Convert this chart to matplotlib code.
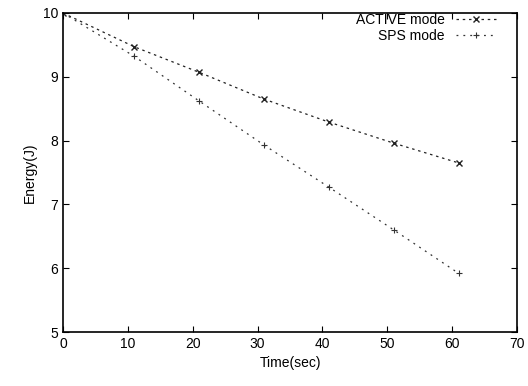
import matplotlib
matplotlib.use('Agg')
import matplotlib.pyplot as plt

plt.rcParams['font.family'] = ['Liberation Sans', 'DejaVu Sans']

timeSec = [0, 11, 21, 31, 41, 51, 61]
activeEnergy = [10.0, 9.47, 9.07, 8.65, 8.29, 7.96, 7.65]
spsEnergy = [10.0, 9.32, 8.62, 7.93, 7.27, 6.60, 5.92]

fig = plt.figure(figsize=(5.28, 3.86), dpi=100)
ax = fig.add_axes([63 / 528, 54 / 386, 454 / 528, 319 / 386])

ax.plot(timeSec, activeEnergy, color='#222222', linestyle=(0, (2, 3)), linewidth=0.9,
        marker='x', markersize=5, markeredgewidth=1.0, label='ACTIVE mode')
ax.plot(timeSec, spsEnergy, color='#333333', linestyle=(0, (1.5, 4)), linewidth=0.9,
        marker='+', markersize=4, markeredgewidth=0.8, label='SPS mode')

ax.set_xlim(0, 70)
ax.set_ylim(5, 10)
ax.set_xticks(range(0, 71, 10))
ax.set_yticks(range(5, 11))
ax.tick_params(direction='in', top=True, right=True, length=4, labelsize=10)
for spine in ax.spines.values():
    spine.set_linewidth(1.2)

ax.set_xlabel('Time(sec)', fontsize=10)
ax.set_ylabel('Energy(J)', fontsize=10)

leg = ax.legend(loc='upper right', bbox_to_anchor=(0.975, 1.025), frameon=False,
                fontsize=10, markerfirst=False, handlelength=3,
                borderaxespad=0.2, labelspacing=0.1)
for text in leg.get_texts():
    text.set_ha('right')

fig.savefig('out.png', dpi=100)
